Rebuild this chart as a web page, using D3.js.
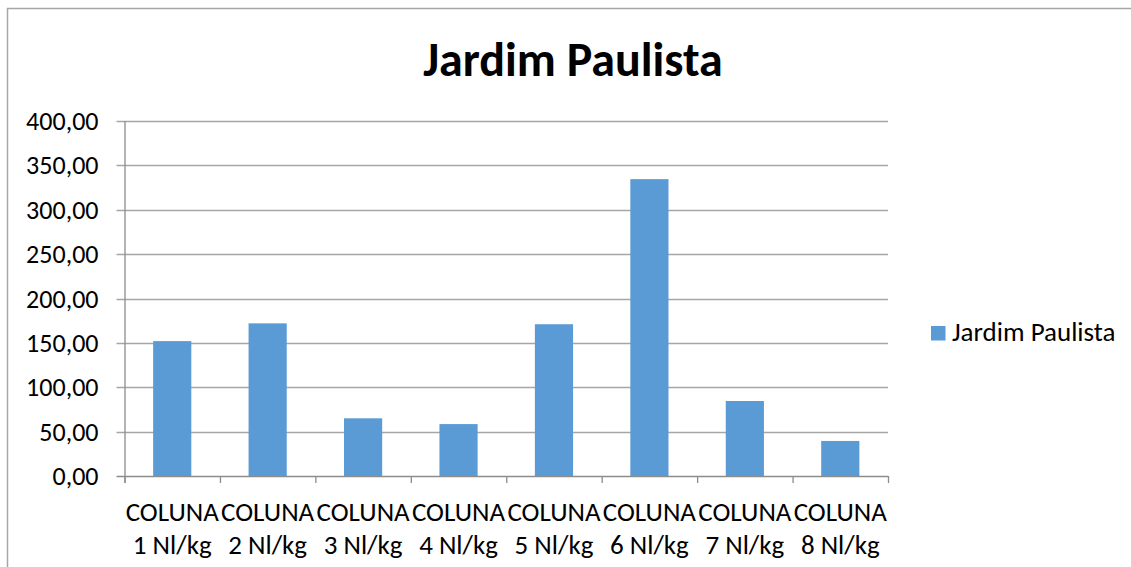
<!DOCTYPE html>
<html>
<head>
<meta charset="utf-8">
<script src="https://cdn.jsdelivr.net/npm/d3@7"></script>
<style>
  body { margin: 0; background: #fff; }
  text { font-family: Carlito, Lato, "Open Sans", sans-serif; fill: #000; }
</style>
</head>
<body>
<div id="chart"></div>
<script>
// data
var categories = ["COLUNA 1 Nl/kg", "COLUNA 2 Nl/kg", "COLUNA 3 Nl/kg", "COLUNA 4 Nl/kg",
                  "COLUNA 5 Nl/kg", "COLUNA 6 Nl/kg", "COLUNA 7 Nl/kg", "COLUNA 8 Nl/kg"];
var values = [152.0, 172.0, 65.0, 58.5, 171.0, 334.5, 84.5, 39.5];
var yTicks = [0, 50, 100, 150, 200, 250, 300, 350, 400];
var seriesName = "Jardim Paulista";
var title = "Jardim Paulista";

var W = 1131, H = 567;
var margin = { top: 121, left: 124.5 };
var width = 888 - margin.left,
    height = 476 - margin.top;

var svg = d3.select("#chart").append("svg")
  .attr("width", W)
  .attr("height", H);

// outer chart border (left + top only visible)
svg.append("path")
  .attr("d", "M7.5," + H + "V8.5H" + W)
  .attr("fill", "none")
  .attr("stroke", "#a6a6a6")
  .attr("stroke-width", 1.5);

svg.append("text")
  .attr("x", 573)
  .attr("y", 76)
  .attr("text-anchor", "middle")
  .attr("font-size", 48)
  .attr("font-weight", 700)
  .text(title);

var g = svg.append("g")
  .attr("transform", "translate(" + margin.left + "," + margin.top + ")");

var x = d3.scaleBand()
  .domain(categories)
  .range([0, width])
  .paddingInner(0.6)
  .paddingOuter(0.3);

var y = d3.scaleLinear()
  .domain([0, 400])
  .range([height, 0]);

// gridlines + y ticks
g.selectAll(".grid")
  .data(yTicks)
  .enter().append("line")
  .attr("class", "grid")
  .attr("x1", -8)
  .attr("x2", width)
  .attr("y1", function (d) { return Math.round(y(d)) + 0.5; })
  .attr("y2", function (d) { return Math.round(y(d)) + 0.5; })
  .attr("stroke", function (d) { return d === 0 ? "#8c8c8c" : "#a6a6a6"; })
  .attr("stroke-width", 1.3);

var fmt = function (d) { return d3.format(".2f")(d).replace(".", ","); };

g.selectAll(".ylab")
  .data(yTicks)
  .enter().append("text")
  .attr("class", "ylab")
  .attr("x", -26)
  .attr("y", function (d) { return y(d); })
  .attr("dy", "0.35em")
  .attr("text-anchor", "end")
  .attr("font-size", 26)
  .text(fmt);

// bars
g.selectAll(".bar")
  .data(values)
  .enter().append("rect")
  .attr("class", "bar")
  .attr("x", function (d, i) { return x(categories[i]); })
  .attr("width", x.bandwidth())
  .attr("y", function (d) { return y(d); })
  .attr("height", function (d) { return height - y(d); })
  .attr("fill", "#5b9bd5");

// y axis line
g.append("line")
  .attr("x1", 0.5).attr("x2", 0.5)
  .attr("y1", 0).attr("y2", height + 7)
  .attr("stroke", "#8c8c8c")
  .attr("stroke-width", 1.3);

// category boundary ticks
var bounds = d3.range(categories.length + 1).map(function (i) { return i * x.step(); });
g.selectAll(".xtick")
  .data(bounds)
  .enter().append("line")
  .attr("class", "xtick")
  .attr("x1", function (d) { return d + 0.5; })
  .attr("x2", function (d) { return d + 0.5; })
  .attr("y1", height)
  .attr("y2", height + 7)
  .attr("stroke", "#8c8c8c")
  .attr("stroke-width", 1.3);

// category labels, two lines
var xl = g.selectAll(".xlab")
  .data(categories)
  .enter().append("text")
  .attr("class", "xlab")
  .attr("text-anchor", "middle")
  .attr("font-size", 27)
  .attr("transform", function (d) { return "translate(" + (x(d) + x.bandwidth() / 2) + "," + (height + 45) + ")"; });

xl.append("tspan")
  .attr("x", 0)
  .text(function (d) { return d.split(" ")[0]; });
xl.append("tspan")
  .attr("x", 0)
  .attr("dy", 33)
  .text(function (d) { return d.split(" ").slice(1).join(" "); });

// legend
var leg = svg.append("g")
  .attr("transform", "translate(931,326)");
leg.append("rect")
  .attr("width", 14.5)
  .attr("height", 14.5)
  .attr("fill", "#5b9bd5");
leg.append("text")
  .attr("x", 21)
  .attr("y", 15)
  .attr("font-size", 27)
  .text(seriesName);
</script>
</body>
</html>
